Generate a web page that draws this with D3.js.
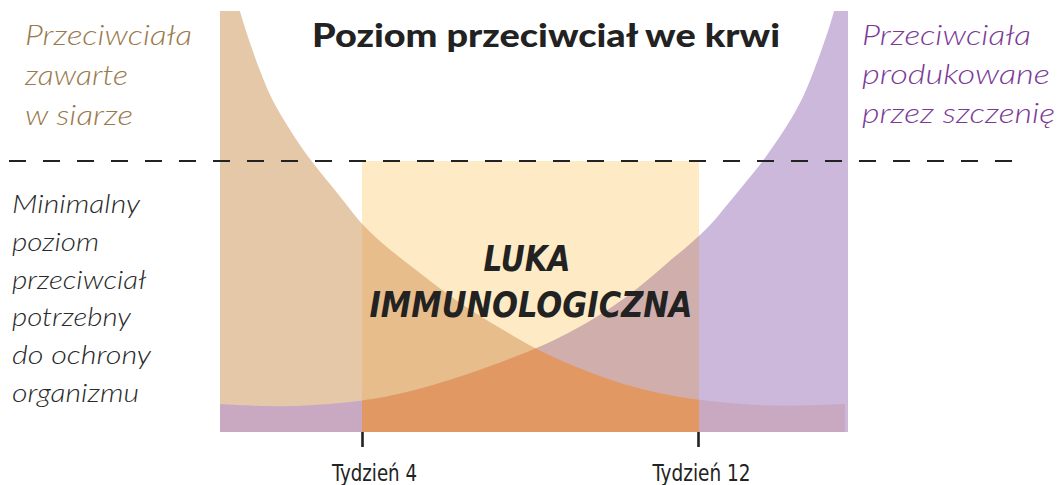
<!DOCTYPE html>
<html>
<head>
<meta charset="utf-8">
<script src="https://cdn.jsdelivr.net/npm/d3@7"></script>
<style>
  html, body { margin: 0; padding: 0; background: #ffffff; }
  svg { display: block; }
</style>
</head>
<body>
<svg id="chart" width="1061" height="485"></svg>
<script>
// ---------- DATA ----------
const maternalWeeks = [0.6, 1.1, 1.33, 1.57, 1.81, 2.05, 2.29, 2.52, 2.79, 3.24, 3.64, 4.02, 4.55, 5.07, 5.86, 6.64, 7.45, 8.12, 9.02, 9.83, 10.62, 11.4, 12, 13, 13.8, 14.7, 15.5];
const maternalLevel = [181.5, 154.6, 143.5, 133.2, 124, 117.3, 111.4, 105.9, 100, 91.5, 83.8, 76, 68.6, 62.4, 52.8, 44.3, 36.9, 30.6, 24.4, 19.6, 15.9, 13.3, 11.8, 10.3, 9.6, 9.8, 10.3];

const puppyWeeks = [0.6, 1.81, 3, 4, 4.9, 6.5, 8.12, 9.02, 9.83, 10.62, 11.26, 11.79, 12.31, 12.69, 13.1, 13.55, 13.81, 14.05, 14.29, 14.52, 14.76, 15, 15.24, 15.62];
const puppyLevel = [10.3, 9.2, 10, 11.4, 13.7, 21, 30.4, 37.3, 44.6, 53.5, 62.4, 69, 76.4, 83.8, 91.5, 100, 105.9, 111.4, 117.3, 124, 133.2, 143.5, 154.6, 178];

const protectionThreshold = 100;
const gapWeeks = [4, 12];
const tickWeeks = [4, 12];
const tickLabels = ["Tydzień 4", "Tydzień 12"];

const titleText = "Poziom przeciwciał we krwi";
const maternalLabel = ["Przeciwciała", "zawarte", "w siarze"];
const puppyLabel = ["Przeciwciała", "produkowane", "przez szczenię"];
const thresholdLabel = ["Minimalny", "poziom", "przeciwciał", "potrzebny", "do ochrony", "organizmu"];
const gapLabel = ["LUKA", "IMMUNOLOGICZNA"];

// ---------- LAYOUT ----------
const svg = d3.select("#chart");
const plotLeft = 220, plotRight = 848, plotTop = 11, plotBottom = 432;

const x = d3.scaleLinear().domain([4, 12]).range([362, 698]);
const y = d3.scaleLinear().domain([0, 100]).range([432, 161]);

const maternal = maternalWeeks.map((w, i) => ({ w, v: maternalLevel[i] }));
const puppy = puppyWeeks.map((w, i) => ({ w, v: puppyLevel[i] }));

const area = d3.area()
  .x(d => x(d.w))
  .y0(y(0))
  .y1(d => y(d.v))
  .curve(d3.curveBasis);

const defs = svg.append("defs");
defs.append("clipPath").attr("id", "plotClip")
  .append("rect")
  .attr("x", plotLeft).attr("y", plotTop)
  .attr("width", plotRight - plotLeft).attr("height", plotBottom - plotTop);
defs.append("clipPath").attr("id", "windowClip")
  .append("rect")
  .attr("x", x(gapWeeks[0])).attr("y", y(protectionThreshold))
  .attr("width", x(gapWeeks[1]) - x(gapWeeks[0]) + 1)
  .attr("height", y(0) - y(protectionThreshold));
defs.append("clipPath").attr("id", "puppyClip")
  .append("path").attr("d", area(puppy));

const colors = {
  maternal: "#e5c8a8",
  puppy: "#cbb8db",
  both: "#c9a8c2",
  gap: "#feeac5",
  gapMaternal: "#e7bd8b",
  gapPuppy: "#d0aeac",
  gapBoth: "#e19862"
};

const plot = svg.append("g").attr("clip-path", "url(#plotClip)");

// outside layer
plot.append("path").attr("d", area(maternal)).attr("fill", colors.maternal);
plot.append("path").attr("d", area(puppy)).attr("fill", colors.puppy);
plot.append("g").attr("clip-path", "url(#puppyClip)")
  .append("path").attr("d", area(maternal)).attr("fill", colors.both);

// immunity-gap window layer
const win = plot.append("g").attr("clip-path", "url(#windowClip)");
win.append("rect")
  .attr("x", x(gapWeeks[0])).attr("y", y(protectionThreshold))
  .attr("width", x(gapWeeks[1]) - x(gapWeeks[0]) + 1)
  .attr("height", y(0) - y(protectionThreshold))
  .attr("fill", colors.gap);
win.append("path").attr("d", area(maternal)).attr("fill", colors.gapMaternal);
win.append("path").attr("d", area(puppy)).attr("fill", colors.gapPuppy);
win.append("g").attr("clip-path", "url(#puppyClip)")
  .append("path").attr("d", area(maternal)).attr("fill", colors.gapBoth);

// threshold dashed line
svg.append("line")
  .attr("x1", 9).attr("x2", 1018)
  .attr("y1", y(protectionThreshold)).attr("y2", y(protectionThreshold))
  .attr("stroke", "#222").attr("stroke-width", 2.2)
  .attr("stroke-dasharray", "17,17");

// axis
const axis = d3.axisBottom(x)
  .tickValues(tickWeeks)
  .tickSize(15)
  .tickPadding(18)
  .tickFormat((d, i) => tickLabels[i]);
const axG = svg.append("g").attr("transform", `translate(0,${plotBottom})`).call(axis);
axG.select(".domain").remove();
axG.selectAll(".tick line").attr("stroke", "#222").attr("stroke-width", 2.6);
axG.selectAll(".tick text")
  .attr("fill", "#222")
  .attr("font-family", "'Liberation Sans Narrow', 'DejaVu Sans Condensed', 'Liberation Sans', sans-serif")
  .attr("font-size", 23)
  .attr("dx", (d, i) => i === 0 ? 12 : 3)
  .attr("textLength", (d, i) => i === 0 ? 85 : 98)
  .attr("lengthAdjust", "spacingAndGlyphs");

// title
svg.append("text")
  .attr("x", 546).attr("y", 47)
  .attr("text-anchor", "middle")
  .attr("font-family", "Lato, 'Open Sans', sans-serif")
  .attr("font-weight", 900)
  .attr("font-size", 33)
  .attr("fill", "#222")
  .attr("textLength", 468)
  .attr("lengthAdjust", "spacingAndGlyphs")
  .text(titleText);

function block(lines, x0, y0, dy, size, color, widths) {
  const t = svg.append("g");
  lines.forEach((s, i) => {
    const el = t.append("text")
      .attr("x", x0).attr("y", y0 + i * dy)
      .attr("font-family", "Lato, 'Open Sans', sans-serif")
      .attr("font-style", "italic")
      .attr("font-weight", 300)
      .attr("font-size", size)
      .attr("fill", color)
      .text(s);
    if (widths) {
      el.attr("textLength", widths[i]).attr("lengthAdjust", "spacingAndGlyphs");
    }
  });
}
block(maternalLabel, 25, 45, 40, 28, "#9a7a4c", [167, 103, 108]);
block(puppyLabel, 862, 45, 39, 28, "#7b3a96", [169, 188, 193]);
block(thresholdLabel, 12, 213, 37.8, 26, "#2a2a2a", [128, 87, 134, 119, 139, 127]);

// gap label
const gapWidths = [87, 323];
gapLabel.forEach((s, i) => {
  svg.append("text")
    .attr("x", i === 0 ? 527 : 531).attr("y", 270.5 + i * 46.5)
    .attr("text-anchor", "middle")
    .attr("font-family", "'DejaVu Sans', Roboto, sans-serif")
    .attr("font-weight", "bold")
    .attr("font-style", "italic")
    .attr("font-size", 36)
    .attr("fill", "#222")
    .attr("textLength", gapWidths[i])
    .attr("lengthAdjust", "spacingAndGlyphs")
    .text(s);
});
</script>
</body>
</html>
